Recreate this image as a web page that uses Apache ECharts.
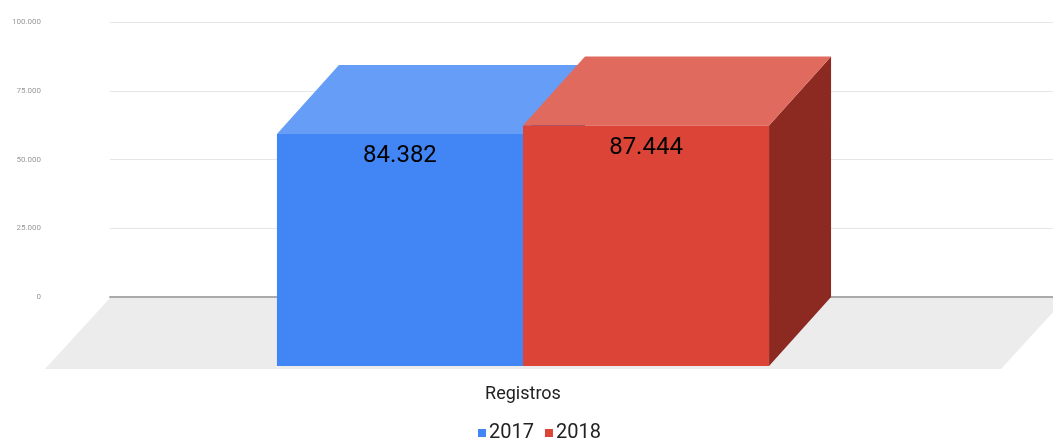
<!DOCTYPE html>
<html>
<head>
<meta charset="utf-8">
<script src="https://cdn.jsdelivr.net/npm/echarts@6.0.0/dist/echarts.min.js"></script>
<style>
  html, body { margin: 0; padding: 0; background: #fff; }
  #main { width: 1053px; height: 439px; }
</style>
</head>
<body>
<div id="main"></div>
<script>
var categories = ['Registros'];
var seriesNames = ['2017', '2018'];
var values2017 = [84382];
var values2018 = [87444];
var yTicks = [0, 25000, 50000, 75000, 100000];

var seriesValues = [values2017, values2018];
var frontColors = ['#4285f4', '#db4437'];
var topColors = ['#669df6', '#e16a5f'];
var sideColors = ['#2a5db0', '#8c2a22'];

// offset from the back plane to the front (fake 3d)
var BAR_DX = -62, BAR_DY = 69;
var FLOOR_DX = -65, FLOOR_DY = 72;

function fmt(v) {
    return String(v).replace(/\B(?=(\d{3})+(?!\d))/g, '.');
}

var myChart = echarts.init(document.getElementById('main'));

function boxRenderer(idx) {
    return function (params, api) {
        var cat = api.value(0);
        var v = api.value(1);
        var base = api.coord([cat, 0]);
        var top = api.coord([cat, v]);
        var band = api.size([1, 0])[0];
        var w = band * 0.259;
        var L = base[0] - w + idx * w;
        var R = L + w;
        var ty = top[1], by = base[1];
        return {
            type: 'group',
            children: [
                {
                    type: 'polygon',
                    shape: { points: [[R, ty], [R, by], [R + BAR_DX, by + BAR_DY], [R + BAR_DX, ty + BAR_DY]] },
                    style: { fill: sideColors[idx] }
                },
                {
                    type: 'polygon',
                    shape: { points: [[L, ty], [R, ty], [R + BAR_DX, ty + BAR_DY], [L + BAR_DX, ty + BAR_DY]] },
                    style: { fill: topColors[idx] }
                },
                {
                    type: 'rect',
                    shape: { x: L + BAR_DX, y: ty + BAR_DY, width: w, height: by - ty },
                    style: { fill: frontColors[idx] }
                },
                {
                    type: 'text',
                    style: {
                        text: fmt(v),
                        x: L + BAR_DX + w / 2,
                        y: ty + BAR_DY + 22,
                        fill: '#000',
                        font: '24px Roboto',
                        align: 'center',
                        verticalAlign: 'middle'
                    }
                }
            ]
        };
    };
}

var series = [
    {
        name: 'floor',
        type: 'custom',
        silent: true,
        data: [[0, 0]],
        renderItem: function (params, api) {
            var cs = params.coordSys;
            var y0 = api.coord([0, 0])[1] + 1;
            var x0 = cs.x, x1 = cs.x + cs.width + 6;
            return {
                type: 'polygon',
                shape: { points: [[x0, y0], [x1, y0], [x1 + FLOOR_DX, y0 + FLOOR_DY - 1], [x0 + FLOOR_DX, y0 + FLOOR_DY - 1]] },
                style: { fill: '#ececec' }
            };
        }
    }
];

seriesNames.forEach(function (name, i) {
    series.push({
        name: name,
        type: 'custom',
        itemStyle: { color: frontColors[i] },
        data: categories.map(function (c, k) { return [k, seriesValues[i][k]]; }),
        renderItem: boxRenderer(i)
    });
});

var option = {
    animation: false,
    textStyle: { fontFamily: 'Roboto' },
    grid: { left: 110, width: 950, top: 22, bottom: 142, outerBoundsMode: 'none' },
    legend: {
        data: seriesNames,
        left: 473,
        top: 418,
        icon: 'rect',
        itemWidth: 8,
        itemHeight: 8,
        itemGap: 11,
        textStyle: { fontSize: 20, color: '#222', padding: [0, 0, 0, -2] }
    },
    xAxis: {
        type: 'category',
        data: categories,
        axisTick: { show: false },
        axisLine: { lineStyle: { color: '#aaa', width: 2 } },
        axisLabel: {
            margin: 88,
            fontSize: 18,
            color: '#222',
            padding: [0, 124, 0, 0]
        }
    },
    yAxis: {
        type: 'value',
        min: yTicks[0],
        max: yTicks[yTicks.length - 1],
        interval: 25000,
        axisLine: { show: false },
        axisTick: { show: false },
        splitLine: { lineStyle: { color: '#e6e6e6' } },
        axisLabel: {
            margin: 69,
            fontSize: 8,
            color: '#999',
            formatter: function (v) { return fmt(v); }
        }
    },
    series: series
};

myChart.setOption(option);
</script>
</body>
</html>
